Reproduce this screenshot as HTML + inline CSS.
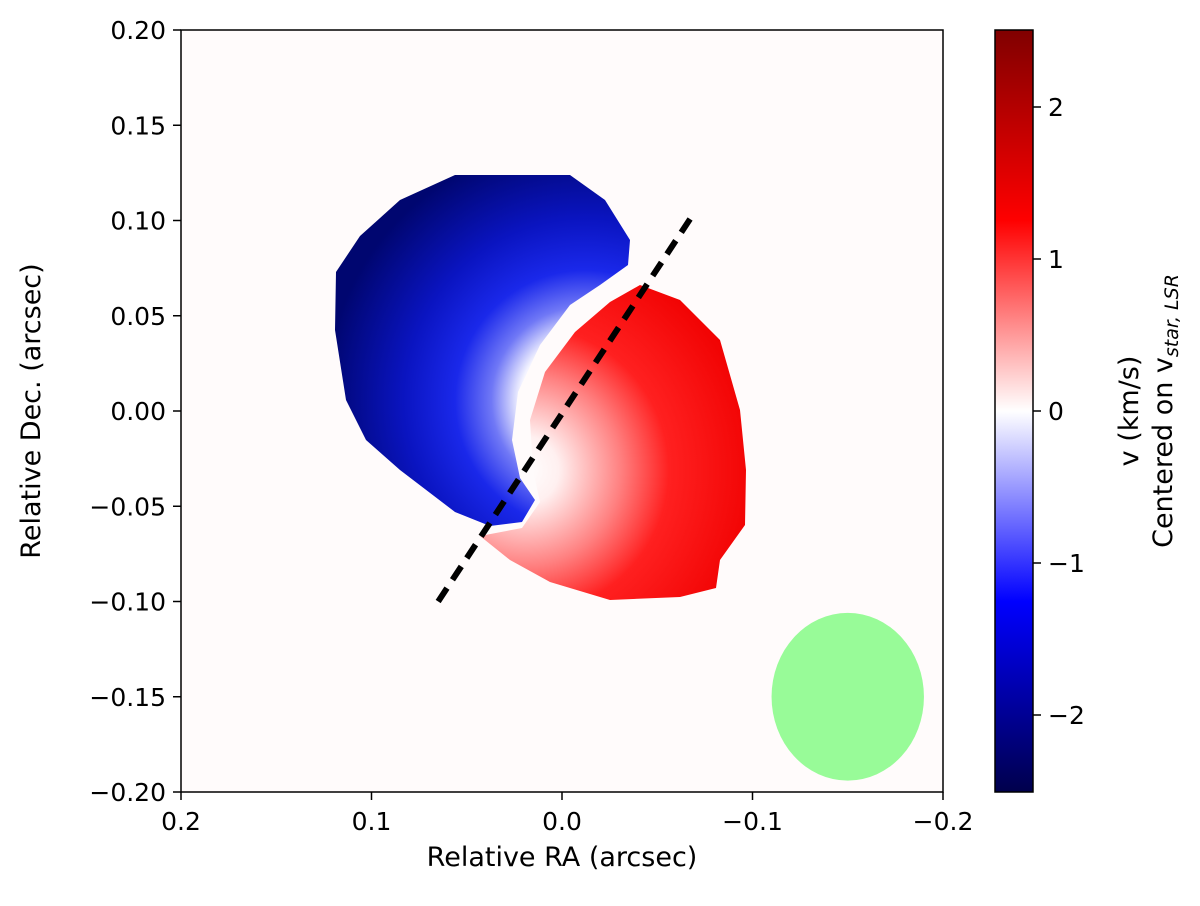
<!DOCTYPE html>
<html><head><meta charset="utf-8"><style>
body{margin:0;background:#fff;}
svg text{font-family:"DejaVu Sans","Liberation Sans",sans-serif;fill:#000;}
</style></head><body>
<svg id="chart" width="1200" height="901" viewBox="0 0 1200 901">
<defs>
<linearGradient id="cbar" x1="0" y1="1" x2="0" y2="0">
<stop offset="0" stop-color="#00004c"/><stop offset="0.25" stop-color="#0000ff"/>
<stop offset="0.5" stop-color="#ffffff"/><stop offset="0.75" stop-color="#ff0000"/>
<stop offset="1" stop-color="#800000"/></linearGradient>
<radialGradient id="blueg" gradientUnits="userSpaceOnUse" cx="585" cy="400" r="260">
<stop offset="0" stop-color="#ffffff"/><stop offset="0.25" stop-color="#f4f4ff"/>
<stop offset="0.36" stop-color="#7078f6"/><stop offset="0.5" stop-color="#1a28ea"/>
<stop offset="0.7" stop-color="#0a14c0"/><stop offset="1" stop-color="#000670"/></radialGradient>
<radialGradient id="redg" gradientUnits="userSpaceOnUse" cx="525" cy="470" r="240">
<stop offset="0" stop-color="#ffffff"/><stop offset="0.14" stop-color="#fff0f0"/>
<stop offset="0.4" stop-color="#ff8080"/><stop offset="0.6" stop-color="#ff2020"/>
<stop offset="1" stop-color="#f00000"/></radialGradient>
</defs>
<rect x="181" y="30" width="762" height="762" fill="#fffbfb" stroke="none"/>
<path fill="url(#blueg)" d="M455,175 L570,175 L605,200 L630,240 L628,265 L600,285 L570,305 L540,345 L518,392 L512,440 L520,478 L535,500 L522,522 L490,526 L455,512 L400,470 L366,440 L346,400 L335,330 L336,272 L360,236 L400,200 Z"/>
<path fill="url(#redg)" d="M640,285 L680,300 L720,340 L740,410 L746,470 L745,525 L720,560 L716,588 L680,597 L610,600 L550,582 L510,560 L480,536 L522,528 L540,502 L533,470 L530,420 L545,372 L575,332 L610,302 Z"/>
<g id="overlay"></g>
<rect x="181" y="30" width="762" height="762" fill="none" stroke="#000" stroke-width="1.5"/>
<g id="xticks"></g><g id="yticks"></g>
<text x="562" y="866" font-size="27" text-anchor="middle">Relative RA (arcsec)</text>
<text transform="translate(40,411) rotate(-90)" font-size="27" text-anchor="middle">Relative Dec. (arcsec)</text>
<rect x="995" y="30" width="38" height="762" fill="url(#cbar)" stroke="#000" stroke-width="1.5"/>
<g id="cticks"></g>
<text transform="translate(1138,411) rotate(-90)" font-size="27" text-anchor="middle">v (km/s)</text>
<text transform="translate(1172,411) rotate(-90)" font-size="27" text-anchor="middle">Centered on v<tspan font-style="italic" font-size="19" dy="6">star, LSR</tspan></text>
</svg>
<script>
const xTicks=[0.2,0.1,0.0,-0.1,-0.2];
const xTickLabels=["0.2","0.1","0.0","\u22120.1","\u22120.2"];
const yTicks=[0.20,0.15,0.10,0.05,0.00,-0.05,-0.10,-0.15,-0.20];
const yTickLabels=["0.20","0.15","0.10","0.05","0.00","\u22120.05","\u22120.10","\u22120.15","\u22120.20"];
const cTicks=[2,1,0,-1,-2];
const cTickLabels=["2","1","0","\u22121","\u22122"];
const axisLineRA=[0.065,-0.07];
const axisLineDec=[-0.1,0.105];
const beamCenter=[-0.15,-0.15];
const beamSize=[0.08,0.088];
const NS="http://www.w3.org/2000/svg";
const X=v=>181+(0.2-v)*1905, Y=v=>30+(0.2-v)*1905, C=v=>411-v*152;
function mk(t,a,p){const e=document.createElementNS(NS,t);for(const k in a)e.setAttribute(k,a[k]);p.appendChild(e);return e;}
const xg=document.getElementById('xticks'),yg=document.getElementById('yticks'),cg=document.getElementById('cticks'),og=document.getElementById('overlay');
xTicks.forEach((v,i)=>{
 const l=mk('line',{x1:X(v),x2:X(v),y1:792,y2:800,stroke:'#000','stroke-width':1.5},xg);
 
 
 const t=mk('text',{x:X(v),y:830,'font-size':25,'text-anchor':'middle'},xg);t.textContent=xTickLabels[i];
 
 
});
yTicks.forEach((v,i)=>{
 const l=mk('line',{x1:173,x2:181,y1:Y(v),y2:Y(v),stroke:'#000','stroke-width':1.5},yg);
 
 
 const t=mk('text',{x:166,y:Y(v)+9,'font-size':25,'text-anchor':'end'},yg);t.textContent=yTickLabels[i];
 
 
});
cTicks.forEach((v,i)=>{
 const l=mk('line',{x1:1033,x2:1041,y1:C(v),y2:C(v),stroke:'#000','stroke-width':1.5},cg);
 
 
 const t=mk('text',{x:1048,y:C(v)+9,'font-size':25},cg);t.textContent=cTickLabels[i];
 
 
});
const dl=mk('line',{x1:X(axisLineRA[0]),y1:Y(axisLineDec[0]),x2:X(axisLineRA[1]),y2:Y(axisLineDec[1]),stroke:'#000','stroke-width':6,'stroke-dasharray':'16 10'},og);


const b=mk('ellipse',{cx:X(beamCenter[0]),cy:Y(beamCenter[1]),rx:beamSize[0]*1905/2,ry:beamSize[1]*1905/2,fill:'#98fb98'},og);


</script>
</body></html>
